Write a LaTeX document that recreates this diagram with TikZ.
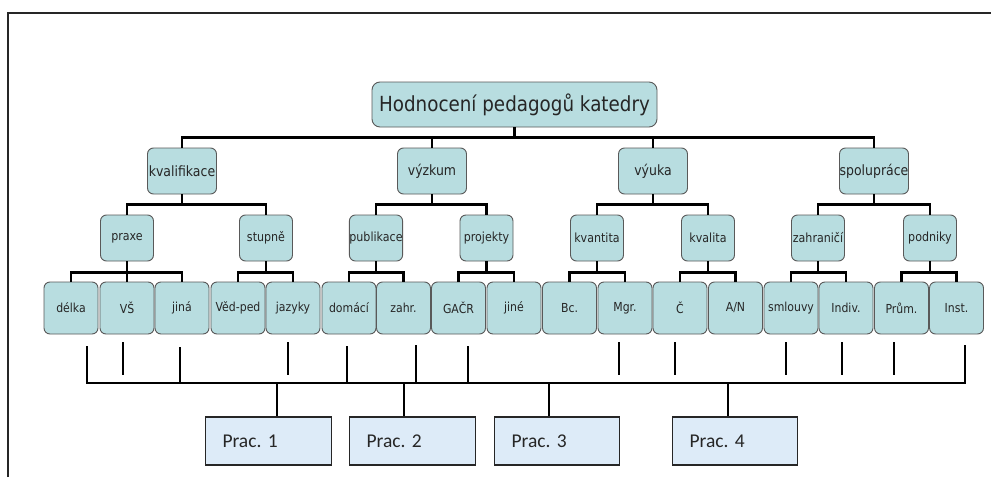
\documentclass[tikz,border=0pt]{standalone}
\usepackage{fontspec}
\newfontfamily\nodefont[FakeStretch=0.88]{DejaVu Sans}
\newfontfamily\pracfont{Carlito}
\definecolor{nodefill}{HTML}{B8DDE0}
\definecolor{pracfill}{HTML}{DDEBF8}
\definecolor{ink}{HTML}{262626}
\frenchspacing
\begin{document}
\begin{tikzpicture}[x=1pt,y=-1pt,
  frame/.style={draw=ink, line width=2pt},
  conn/.style={draw=black, line width=2.9pt},
  tickline/.style={draw=black, line width=2.5pt},
  box/.style={draw=black!65, line width=0.9pt, fill=nodefill, rounded corners=6pt,
    inner sep=0pt, text=ink},
  rootbox/.style={box, rounded corners=8pt, minimum width=285pt, minimum height=45pt,
    font={\nodefont\fontsize{20.8}{24}\selectfont}},
  lvlone/.style={box, minimum width=69pt, minimum height=46pt,
    font={\nodefont\fontsize{14.2}{17}\selectfont}},
  lvltwo/.style={box, minimum width=53pt, minimum height=46pt,
    font={\nodefont\fontsize{12.6}{15}\selectfont}},
  leaf/.style={box, minimum width=54pt, minimum height=52pt,
    font={\nodefont\fontsize{12.4}{15}\selectfont}},
  prac/.style={draw=ink, line width=1.8pt, fill=pracfill, inner xsep=17pt, inner ysep=0pt,
    text width=92pt, align=left, minimum height=48pt, text=ink,
    font={\pracfont\fontsize{19.5}{23}\selectfont}}
]
\useasboundingbox (0,0) rectangle (991,477);
\fill[white] (0,0) rectangle (991,477);

% outer frame (top and left edges)
\draw[frame] (7.5,477) -- (7.5,12.5) -- (991,12.5);

% root
\node[rootbox] (root) at (514.5,104.5) {Hodnocení pedagogů katedry};

% first level
\node[lvlone] (kval) at (182,171) {kvalifikace};
\node[lvlone] (vyz)  at (432,171) {výzkum};
\node[lvlone] (vyu)  at (653,171) {výuka};
\node[lvlone] (spol) at (874,171) {spolupráce};

% second level
\node[lvltwo] (praxe)  at (127,238)   {praxe};
\node[lvltwo] (stupne) at (266,238)   {stupně};
\node[lvltwo] (publ)   at (376,238)   {publikace};
\node[lvltwo] (proj)   at (486.5,238) {projekty};
\node[lvltwo] (kvant)  at (597,238)   {kvantita};
\node[lvltwo] (kvali)  at (708,238)   {kvalita};
\node[lvltwo] (zahr)   at (818,238)   {zahraničí};
\node[lvltwo] (podn)   at (930,238)   {podniky};

% leaves
\node[leaf] (delka) at (71,308)    {délka};
\node[leaf] (vs)    at (127,308)   {VŠ};
\node[leaf] (jina)  at (182,308)   {jiná};
\node[leaf] (ved)   at (238,308)   {Věd-ped};
\node[leaf] (jaz)   at (293,308)   {jazyky};
\node[leaf] (dom)   at (349,308)   {domácí};
\node[leaf] (zah)   at (403.5,308) {zahr.};
\node[leaf] (gacr)  at (458.5,308) {GAČR};
\node[leaf] (jine)  at (514,308)   {jiné};
\node[leaf] (bc)    at (569.5,308) {Bc.};
\node[leaf] (mgr)   at (625,308)   {Mgr.};
\node[leaf] (cc)    at (680,308)   {Č};
\node[leaf] (an)    at (735.5,308) {A/N};
\node[leaf] (sml)   at (791,308)   {smlouvy};
\node[leaf] (ind)   at (846,308)   {Indiv.};
\node[leaf] (prum)  at (901.5,308) {Prům.};
\node[leaf] (inst)  at (956.5,308) {Inst.};

% tree connectors
\foreach \c in {kval,vyz,vyu,spol}
  \draw[conn] (root.south) -- ++(0,10) -| (\c.north);
\foreach \p/\c in {kval/praxe,kval/stupne,vyz/publ,vyz/proj,vyu/kvant,vyu/kvali,spol/zahr,spol/podn}
  \draw[conn] (\p.south) -- ++(0,10) -| (\c.north);
\foreach \p/\c in {praxe/delka,praxe/vs,praxe/jina,stupne/ved,stupne/jaz,publ/dom,publ/zah,
                   proj/gacr,proj/jine,kvant/bc,kvant/mgr,kvali/cc,kvali/an,
                   zahr/sml,zahr/ind,podn/prum,podn/inst}
  \draw[conn] (\p.south) -- ++(0,11) -| (\c.north);

% collecting bus
\coordinate (busL) at (87,383);
\coordinate (busR) at (965,383);
\draw[tickline] (87,346) -- (busL) -- (busR) -- (965,345);
% ticks reaching the bus
\foreach \x/\t in {180/347,347/346,416/345,468/346}
  \draw[tickline] (\x,\t) -- (\x,383);
% short ticks
\foreach \x in {123,288,619,675,786,842,894}
  \draw[tickline] (\x,342) -- (\x,375);

% workplaces
\node[prac] (p1) at (268.5,441) {Prac. 1};
\node[prac] (p2) at (412.5,441) {Prac. 2};
\node[prac, text width=91pt] (p3) at (557,441) {Prac. 3};
\node[prac, text width=91pt] (p4) at (735,441) {Prac. 4};

\coordinate (d1) at (277,383);
\coordinate (d2) at (404,383);
\coordinate (d3) at (549,383);
\coordinate (d4) at (728,383);
\draw[conn] (d1) -- (p1.north -| d1);
\draw[conn] (d2) -- (p2.north -| d2);
\draw[conn] (d3) -- (p3.north -| d3);
\draw[conn] (d4) -- (p4.north -| d4);
\end{tikzpicture}
\end{document}
